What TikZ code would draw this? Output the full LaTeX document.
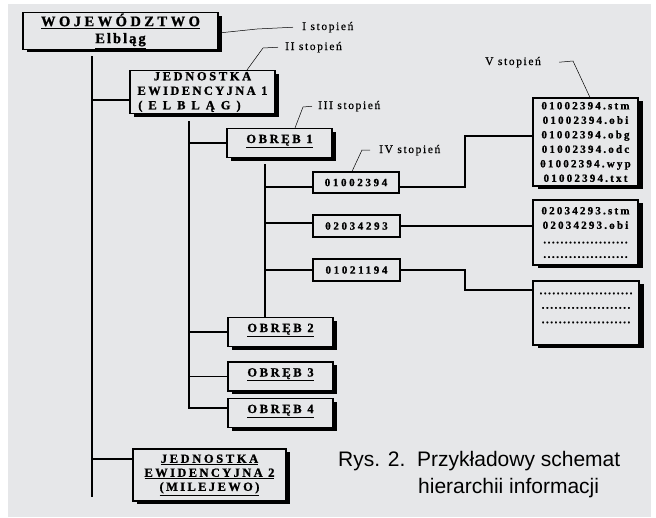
\documentclass[tikz,border=0pt]{standalone}
\usepackage{fontspec}
\setmainfont{Liberation Serif}
\newfontfamily\schfont[BoldFeatures={FakeBold=1.2}]{Liberation Serif}
\newfontfamily\stopfont[FakeBold=0.5]{Liberation Serif}
\newfontfamily\podpisfont{Liberation Sans}
\usepackage{xcolor}
\usepackage{tikz}
\usetikzlibrary{calc, shadows}
\definecolor{tlo}{RGB}{230,231,233}
\newcommand{\rozstaw}[2]{{\addfontfeature{LetterSpace=#1}#2}}

\begin{document}
\begin{tikzpicture}[x=1pt, y=-1pt,
    ramka/.style={draw, line width=1.1pt, fill=tlo, inner sep=1pt, align=center},
    cien/.style={drop shadow={shadow xshift=4pt, shadow yshift=-3pt, fill=black, opacity=1}},
    obreb/.style={ramka, cien, minimum width=105pt, text height=13pt, text depth=13pt, inner sep=1.5pt,
        font=\schfont\bfseries\fontsize{12.5}{14}\selectfont},
    kod/.style={ramka, minimum width=87pt, minimum height=22pt,
        font=\schfont\bfseries\fontsize{11}{12}\selectfont},
    plik/.style={ramka, minimum width=105pt,
        drop shadow={shadow xshift=5pt, shadow yshift=-3pt, fill=black, opacity=1},
        font=\schfont\bfseries\fontsize{11}{14.5}\selectfont},
    stopien/.style={anchor=base west, inner sep=0pt,
        font=\stopfont\fontsize{11.5}{13}\selectfont\addfontfeature{LetterSpace=14}},
    polacz/.style={line width=1.8pt},
    opis/.style={line width=0.5pt}]
    % 1. Tlo
    \useasboundingbox (0,0) rectangle (656,517);
    \fill[white] (0,0) rectangle (656,517);
    \fill[tlo] (8,4) rectangle (651,517);

    % 2. Ramki
    \node[ramka, cien, minimum width=195pt, minimum height=36pt,
        font=\schfont\bfseries\fontsize{14.5}{17}\selectfont] (woj) at (120.5,31)
        {\underline{\rozstaw{24}{WOJEWÓDZTWO}}\\ \underline{\rozstaw{14}{Elbląg}}};
    \node[ramka, cien, minimum width=145pt, minimum height=43pt,
        font=\schfont\bfseries\fontsize{12.5}{14.5}\selectfont] (jed1) at (202.5,92)
        {\rozstaw{21}{JEDNOSTKA}\\ \rozstaw{19}{EWIDENCYJNA 1}\\ \rozstaw{48}{(ELBLĄG)}\hspace*{26pt}};
    \node[ramka, cien, minimum width=153pt, minimum height=52pt,
        font=\schfont\bfseries\fontsize{12.5}{14}\selectfont] (jed2) at (209.5,475)
        {\underline{\rozstaw{21}{JEDNOSTKA}}\\ \underline{\rozstaw{19}{EWIDENCYJNA 2}}\\
         \underline{\rozstaw{19}{(MILEJEWO)}}};
    \node[obreb, minimum height=28pt] (obr1) at (279.5,143) {\underline{\rozstaw{21}{OBRĘB 1}}};
    \node[obreb] (obr2) at (280.5,332) {\underline{\rozstaw{21}{OBRĘB 2}}};
    \node[obreb] (obr3) at (280.5,376.5) {\underline{\rozstaw{21}{OBRĘB 3}}};
    \node[obreb] (obr4) at (280.5,413) {\underline{\rozstaw{21}{OBRĘB 4}}};

    \node[kod, minimum width=86pt, minimum height=21pt] (d1) at (356,182.5) {\rozstaw{24}{01002394}};
    \node[kod] (d2) at (356.5,226) {\rozstaw{24}{02034293}};
    \node[kod] (d3) at (356.5,270) {\rozstaw{24}{01021194}};

    \node[plik, minimum height=88pt] (f1) at (585.5,142)
        {\rozstaw{20}{01002394.stm}\\ \rozstaw{20}{01002394.obi}\\ \rozstaw{20}{01002394.obg}\\
         \rozstaw{20}{01002394.odc}\\ \rozstaw{20}{01002394.wyp}\\ \rozstaw{20}{01002394.txt}};
    \node[plik, minimum height=65pt] (f2) at (585.5,232.5)
        {\rozstaw{20}{02034293.stm}\\ \rozstaw{20}{02034293.obi}\\
         \rozstaw{14}{....................}\\ \rozstaw{14}{....................}};
    \node[plik, minimum width=106pt, minimum height=64pt] (f3) at (586,313)
        {\parbox[t][58pt][t]{100pt}{\centering
         \strut\rozstaw{14}{......................}\\
         \strut\rozstaw{14}{.....................}\\
         \strut\rozstaw{14}{.....................}}};

    % 3. Polaczenia
    \coordinate (p1) at (92,56);
    \coordinate (k1) at (92,497);
    \draw[polacz] (p1) -- (k1);
    \draw[polacz] (p1) |- ([yshift=-8pt]jed1.west);
    \draw[polacz] (p1) |- ([yshift=16pt]jed2.west);

    \coordinate (p2) at (189,121);
    \draw[polacz] (p2) |- (obr1.west);
    \draw[polacz] (p2) |- (obr2.west);
    \draw[polacz] (p2) |- (obr3.west);
    \draw[polacz] (p2) |- ([yshift=5pt]obr4.west);

    \coordinate (p3) at (265,164);
    \draw[polacz] (p3) -- (p3 |- obr2.north);
    \draw[polacz] (p3) |- ([yshift=-4.5pt]d1.west);
    \draw[polacz] (p3) |- ([yshift=3pt]d2.west);
    \draw[polacz] (p3) |- (d3.west);

    \coordinate (z1) at (465,136);
    \coordinate (z3) at (465,290);
    \draw[polacz] ([yshift=-4.5pt]d1.east) -| (z1) -- ([yshift=6pt]f1.west);
    \draw[polacz] (d2.east) -- (d2.east -| f2.west);
    \draw[polacz] (d3.east) -| (z3) -- ([yshift=23pt]f3.west);

    % 4. Stopnie
    \node[stopien] (st1) at (302,30) {I stopień};
    \node[stopien] (st2) at (285,50) {II stopień};
    \node[stopien] (st3) at (318,109) {III stopień};
    \node[stopien] (st4) at (379,153) {IV stopień};
    \node[stopien] (st5) at (485,65) {V stopień};
    \draw[opis] ([yshift=-2pt]woj.east) -- (257,29) -- ([xshift=-9pt]st1.west);
    \draw[opis] ([xshift=44.5pt]jed1.north) -- (263,48) -- ([xshift=-7pt]st2.west);
    \draw[opis] ([xshift=15.5pt]obr1.north) -- (303,107) -- ([xshift=-6pt]st3.west);
    \draw[opis] ([xshift=-4pt]d1.north) -- (362,150) -- ([xshift=-9pt]st4.west);
    \draw[opis] ([xshift=4.5pt]f1.north) -- (573,61) -- ([xshift=18pt]st5.east);

    % 5. Podpis
    \node[anchor=base west, inner sep=0pt, font=\podpisfont\fontsize{21}{25}\selectfont] (pod1)
        at (338,466) {Rys. 2.\ \ Przykładowy schemat};
    \node[anchor=base west, inner sep=0pt, font=\podpisfont\fontsize{21}{25}\selectfont] (pod2)
        at (418,493) {hierarchii informacji};
\end{tikzpicture}
\end{document}
